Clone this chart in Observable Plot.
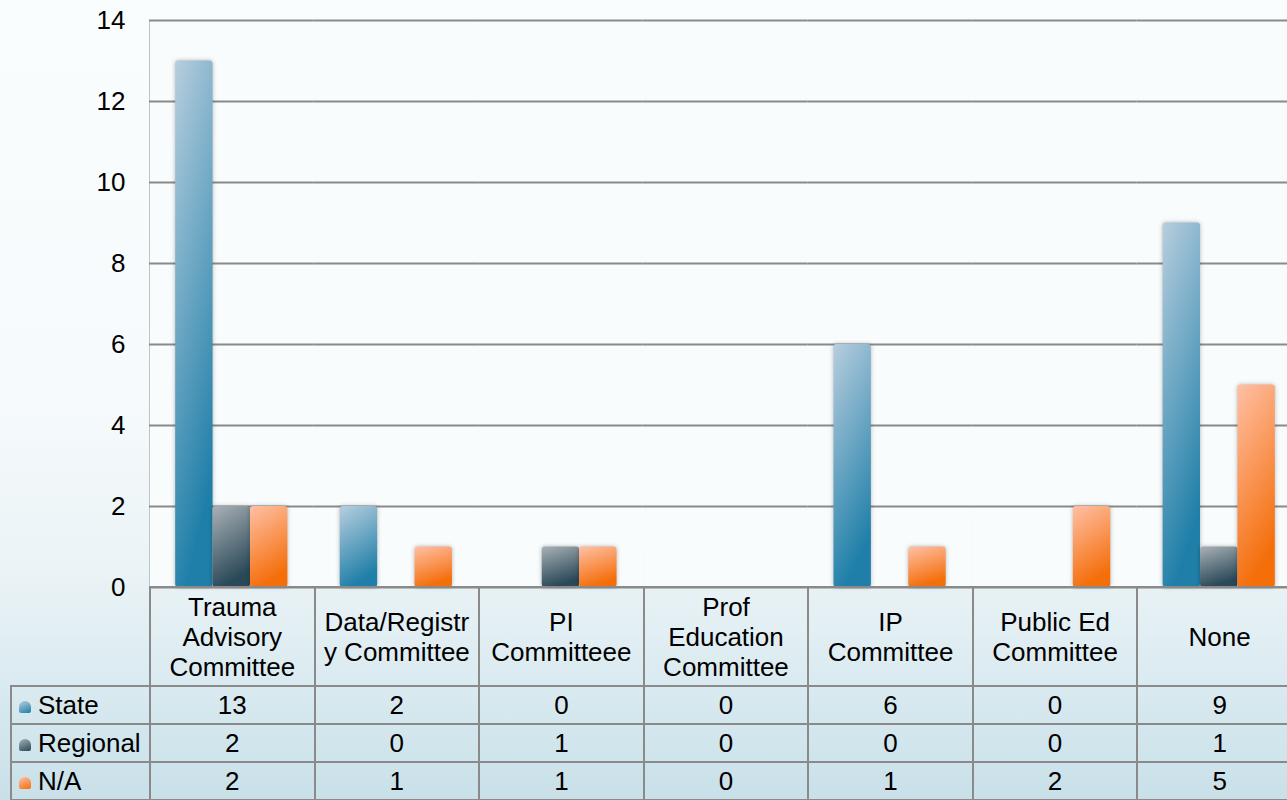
<!DOCTYPE html>
<html>
<head>
<meta charset="utf-8">
<script src="https://cdn.jsdelivr.net/npm/d3@7"></script>
<script src="https://cdn.jsdelivr.net/npm/@observablehq/plot@0.6"></script>
<style>
html, body { margin: 0; padding: 0; overflow: hidden; width: 1287px; height: 800px; }
#wrap {
  position: relative; width: 1287px; height: 800px; overflow: hidden;
  background: linear-gradient(to bottom, #fafdfe 0%, #f6fafc 50%, #eaf3f6 72%, #d9eaf0 86%, #c9e0e8 100%);
  font-family: "Liberation Sans", Arial, sans-serif;
}
#chart { position: absolute; left: 0; top: 0; width: 1301px; }
#chart svg { max-width: none !important; }
#chart svg text { fill: #000; }
#chart g[aria-label="bar"] rect { filter: drop-shadow(0px 0px 2px rgba(0,0,0,0.28)); }
#tbl {
  position: absolute; left: 10px; top: 586px;
  border-collapse: collapse; table-layout: fixed;
  font-size: 26px; color: #000; font-family: "Liberation Sans", Arial, sans-serif;
}
#tbl td { border: 2px solid #8a8a8a; padding: 0; text-align: center; vertical-align: middle; }
#tbl td.corner { border-top: none; border-left: none; }
#tbl tr.head td { height: 97px; line-height: 30px; white-space: pre-line; }
#tbl tr.data td { height: 36px; line-height: 30px; }
#tbl td.series { text-align: left; padding-left: 7px; white-space: nowrap; }
.mk { display: inline-block; width: 12px; height: 12px; border-radius: 6px 6px 2px 2px; margin-right: 7px; vertical-align: 1px; }
</style>
</head>
<body>
<div id="wrap">
  <div id="chart"></div>
</div>
<script>
// ---- data ----
const categories = ["Trauma Advisory Committee", "Data/Registry Committee", "PI Committeee", "Prof Education Committee", "IP Committee", "Public Ed Committee", "None"];
const categoryLabels = ["Trauma\nAdvisory\nCommittee", "Data/Registr\ny Committee", "PI\nCommitteee", "Prof\nEducation\nCommittee", "IP\nCommittee", "Public Ed\nCommittee", "None"];
const seriesNames = ["State", "Regional", "N/A"];
const stateValues = [13, 2, 0, 0, 6, 0, 9];
const regionalValues = [2, 0, 1, 0, 0, 0, 1];
const naValues = [2, 1, 1, 0, 1, 2, 5];
const yTicks = [0, 2, 4, 6, 8, 10, 12, 14];

// ---- styles ----
const seriesGradients = {
  "State": ["#b8cede", "#1f7fa8"],
  "Regional": ["#a9b1b6", "#2a4858"],
  "N/A": ["#ffc0a6", "#f46e0a"]
};
const gradIds = {"State": "gState", "Regional": "gRegional", "N/A": "gNA"};

const valueSets = [stateValues, regionalValues, naValues];
const rows = [];
categories.forEach((c, i) => {
  seriesNames.forEach((s, j) => rows.push({category: c, series: s, value: valueSets[j][i]}));
});

const chart = Plot.plot({
  width: 1301,
  height: 590,
  marginLeft: 149,
  marginRight: 0,
  marginTop: 20,
  marginBottom: 3,
  style: {fontFamily: "Liberation Sans, Arial, sans-serif", fontSize: "26px", color: "#8a8a8a", background: "transparent", overflow: "visible", maxWidth: "none"},
  fx: {domain: categories, paddingInner: 0, paddingOuter: 0, round: false, axis: null, label: null},
  x: {domain: seriesNames, paddingInner: 0, paddingOuter: 0.7, round: false, axis: null, label: null},
  y: {domain: [0, 14], ticks: yTicks, tickSize: 0, tickPadding: 24, label: null, line: true},
  color: {domain: seriesNames, range: seriesNames.map(s => `url(#${gradIds[s]})`)},
  marks: [
    Plot.frame({fill: "#f9fcfd", stroke: "none"}),
    Plot.ruleY(yTicks, {stroke: "#8a8a8a", strokeWidth: 2}),
    Plot.barY(rows, {fx: "category", x: "series", y: "value", fill: "series", rx: 3})
  ]
});

const defs = d3.select(chart).insert("defs", ":first-child");
seriesNames.forEach(s => {
  const g = defs.append("linearGradient").attr("id", gradIds[s])
    .attr("x1", 0).attr("y1", 0).attr("x2", 0.3).attr("y2", 1);
  g.append("stop").attr("offset", "0%").attr("stop-color", seriesGradients[s][0]);
  g.append("stop").attr("offset", "100%").attr("stop-color", seriesGradients[s][1]);
});
document.getElementById("chart").appendChild(chart);

// ---- data table below the plot, aligned to the fx scale ----
const fx = chart.scale("fx");
const colW = fx.bandwidth || fx.step;
const table = d3.select("#wrap").append("table").attr("id", "tbl");
const cg = table.append("colgroup");
cg.append("col").style("width", "139px");
categories.forEach(() => cg.append("col").style("width", colW + "px"));
const head = table.append("tr").attr("class", "head");
head.append("td").attr("class", "corner");
categoryLabels.forEach(l => head.append("td").text(l));
seriesNames.forEach((s, j) => {
  const tr = table.append("tr").attr("class", "data");
  const td = tr.append("td").attr("class", "series");
  td.append("span").attr("class", "mk")
    .style("background", `linear-gradient(155deg, ${seriesGradients[s][0]}, ${seriesGradients[s][1]})`);
  td.append("span").text(s);
  valueSets[j].forEach(v => tr.append("td").text(v));
});
table.style("width", (139 + colW * categories.length) + "px");
</script>
</body>
</html>
